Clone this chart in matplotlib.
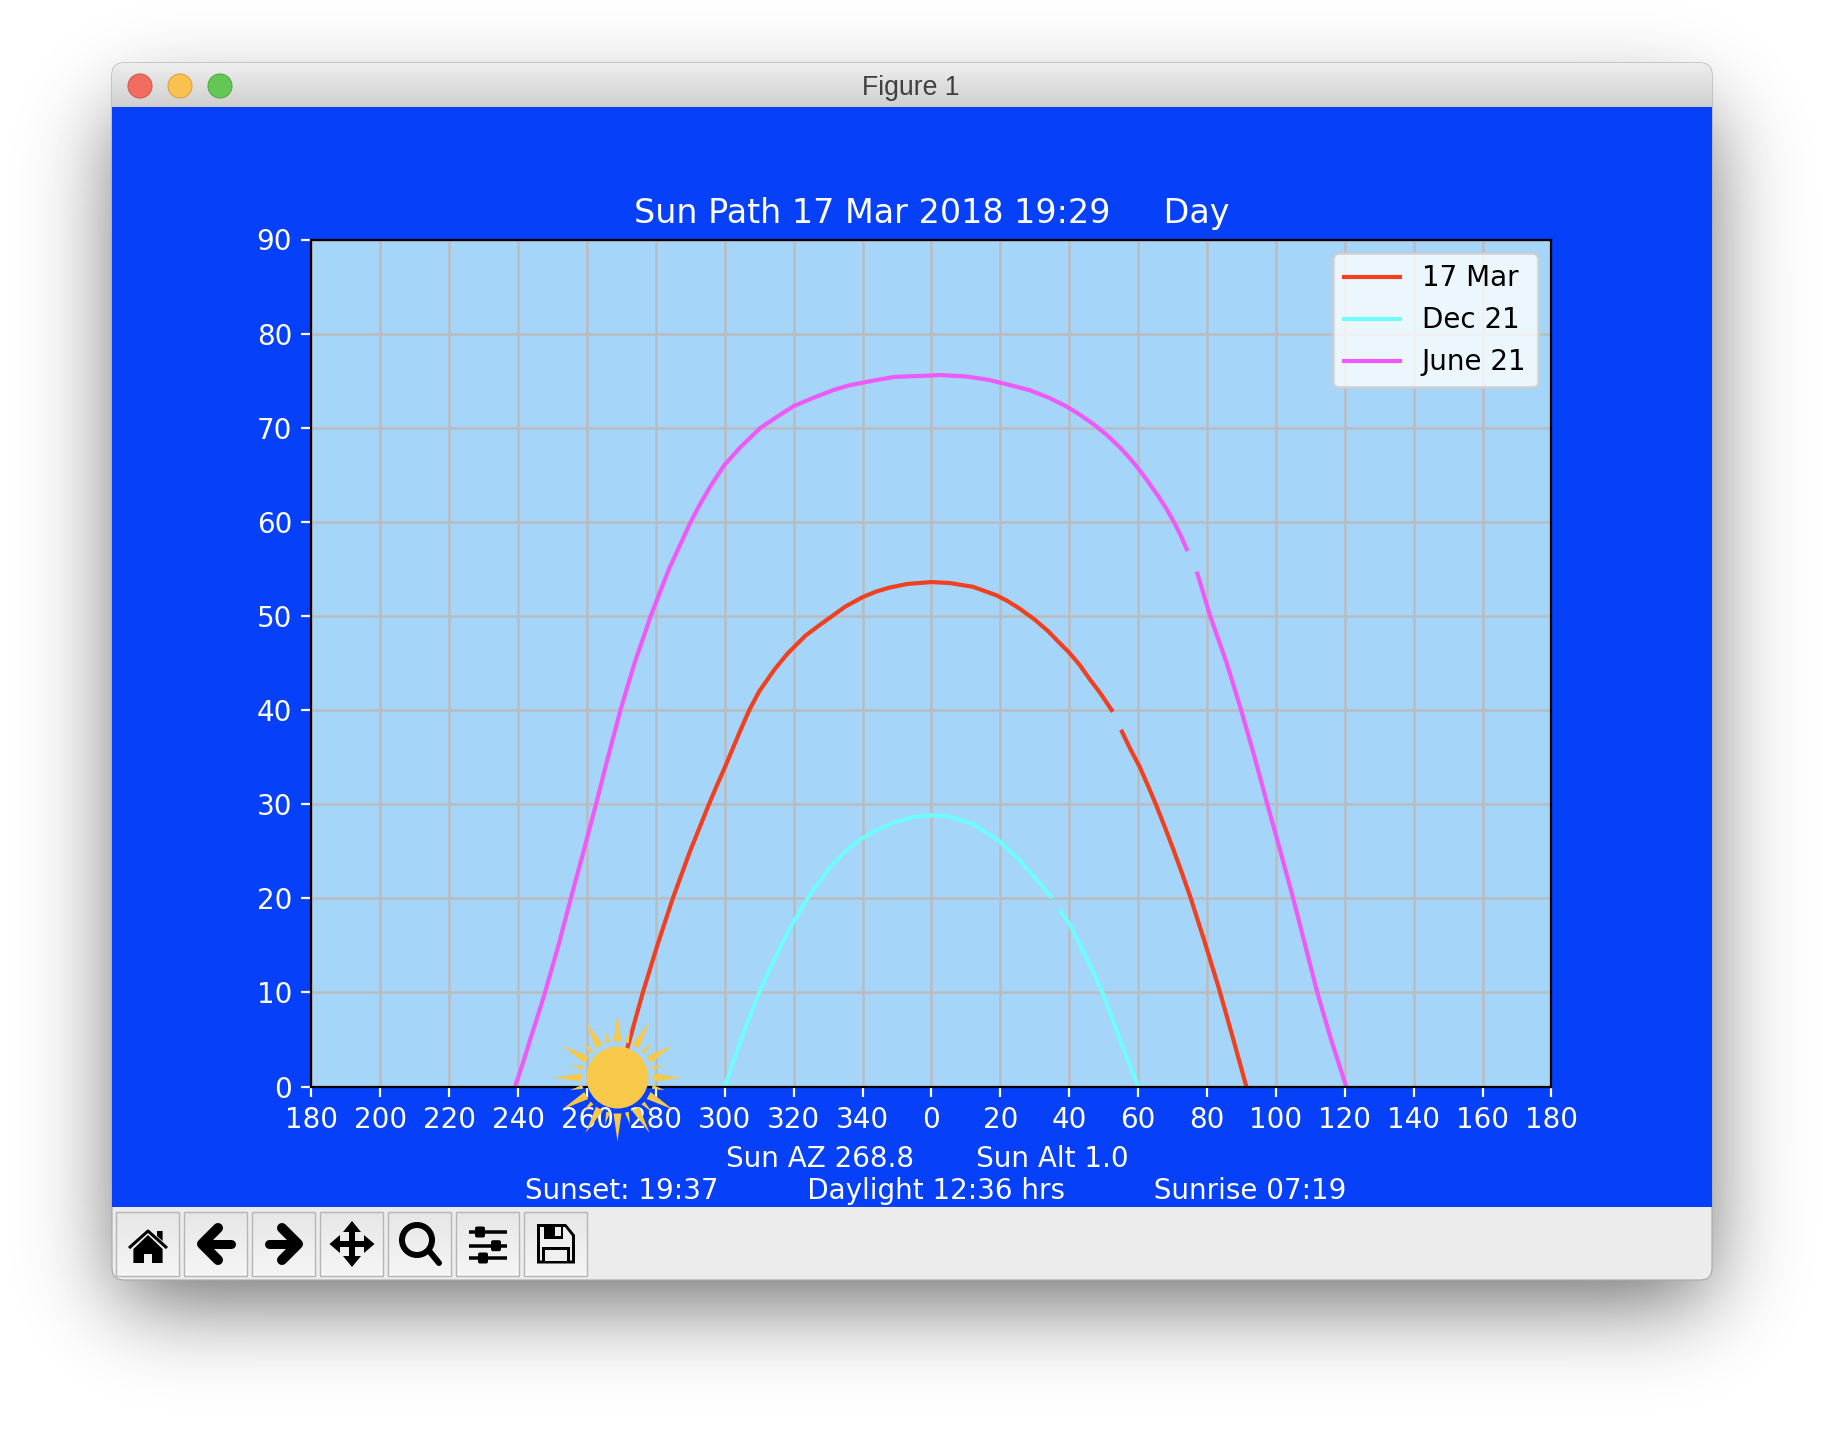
import math

import matplotlib
matplotlib.use("Agg")
import matplotlib.pyplot as plt
import numpy as np
from matplotlib.markers import MarkerStyle
from matplotlib.patches import Circle, FancyBboxPatch, Polygon, Rectangle
from matplotlib.path import Path

nan = np.nan

# sun path readings: azimuth (0 = south, negative = west side of the plot) and altitude
mar_az = [-91.4, -87.6, -83.8, -79.6, -75.1, -70.1, -64.6, -62.3, -59.9, -57.6, -55.3, -52.9, -50,
          -45.6, -41.8, -36.6, -32.6, -28.8, -25, -20, -16, -12.3, -7, 0,
          5.2, 12, 18.8, 22, 25.5, 30, 33.8, 37, 40, 43, 45.9, 49, 52.3, nan,
          55.3, 57.8, 60.4, 62.8, 65, 67.6, 70.2, 72.6, 75, 79.2, 83.3, 87.4, 91.4]
mar_alt = [0, 5, 10, 15, 20, 25, 30, 32, 34, 36, 38, 40, 42,
           44.3, 46, 47.9, 49, 50, 51, 52, 52.6, 53, 53.4, 53.6,
           53.5, 53.1, 52.2, 51.6, 50.8, 49.6, 48.4, 47.2, 46.1, 44.8, 43.3, 41.8, 40, nan,
           37.7, 35.8, 34, 32, 30.1, 27.7, 25.2, 22.8, 20.3, 15.5, 10.6, 5.3, 0]

dec_az = [-60, -55.3, -50, -46.9, -43.6, -40.8, -36, -32.1, -29.2, -25, -20.9, -15.6, -11.2, -5.4, 0,
          5, 12, 19.6, 24, 27.4, 31, 34.6, nan,
          37.5, 39.9, 42.4, 44.8, 47.2, 49.6, 52.5, 55.4, 60]
dec_alt = [0, 5, 10, 12.5, 15, 17, 20, 22, 23.4, 25, 26.2, 27.3, 28, 28.65, 28.8,
           28.7, 27.9, 26.1, 24.6, 23.3, 21.8, 20.2, nan,
           18.6, 17.4, 15.6, 13.8, 12, 10, 7.2, 4.3, 0]

jun_az = [-120.9, -118.6, -116.5, -114.3, -112.2, -108.3, -104.7, -101, -97.4, -93.9, -90.3, -86.2,
          -81.5, -76.2, -69.9, -67, -63.8, -60.2, -55.3, -49.6, -44.7, -40, -34.5, -28.5, -23.9,
          -17, -10.8, 0, 2.3, 10, 16.4, 22, 28.4, 34, 39, 43, 47.3, 51, 55, 57.7, 60.4, 63, 65.7,
          68.2, 70.5, 72.3, 74.1, nan,
          77.2, 80.9, 85.7, 89.9, 93.8, 97.5, 101.3, 105, 108.5, 112, 116, 118.2, 120.4]
jun_alt = [0, 2.5, 5, 7.5, 10, 15, 20, 25, 30, 35, 40, 45,
           50, 55, 60, 62, 64, 66, 68, 70, 71.2, 72.3, 73.15, 74, 74.5,
           75, 75.4, 75.55, 75.6, 75.45, 75.1, 74.6, 74, 73.2, 72.3, 71.4, 70.3, 69.2, 67.8, 66.7, 65.5, 64.2, 62.8,
           61.4, 59.9, 58.6, 57.1, nan,
           54.5, 50, 45, 40, 35, 30, 25, 20, 15, 10, 5, 2.5, 0]

sun_az = -91.2
sun_alt = 1.0

x_ticks = list(range(-180, 181, 20))
x_labels = ["180", "200", "220", "240", "260", "280", "300", "320", "340",
            "0", "20", "40", "60", "80", "100", "120", "140", "160", "180"]
y_ticks = list(range(0, 91, 10))

BLUE = "#0640f8"
PT = 72 / 200  # one pixel in points

fig = plt.figure(figsize=(9.12, 7.2), dpi=200, facecolor="white")

# window chrome, in pixels
bg = fig.add_axes([0, 0, 1, 1], zorder=0)
bg.set_axis_off()


def edge(v, a, b, s):
    erf = np.vectorize(math.erf)
    k = s * math.sqrt(2)
    return 0.5 * (erf((v - a) / k) - erf((v - b) / k))


xx = edge(np.arange(1824), 118, 1706, 45)
yy = edge(np.arange(1440), 110, 1300, 45)
shadow = 1 - 0.6 * np.outer(yy, xx)
bg.imshow(shadow, cmap="gray", vmin=0, vmax=1, extent=[0, 1824, 1440, 0], aspect="auto", zorder=0)

win = FancyBboxPatch((112, 63), 1600, 1217, boxstyle="round,pad=0,rounding_size=12",
                     facecolor="#ececec", edgecolor="#a8a8a8", linewidth=0.4, zorder=0.5)
bg.add_patch(win)
bar = bg.imshow(np.linspace(0.93, 0.81, 44).reshape(-1, 1), cmap="gray", vmin=0, vmax=1,
                extent=[112, 1712, 107, 63], aspect="auto", zorder=0.6)
bar.set_clip_path(win)
bg.add_patch(Rectangle((112, 107), 1600, 1100, facecolor=BLUE, edgecolor="none", zorder=0.7))
bg.set_xlim(0, 1824)
bg.set_ylim(1440, 0)

for cx, col, ec in [(140, "#f26d60", "#d9574b"), (180, "#f9c14e", "#dfa33c"), (220, "#62c755", "#50ad45")]:
    bg.add_patch(Circle((cx, 86), 12, facecolor=col, edgecolor=ec, linewidth=0.4, zorder=2))
bg.text(911, 88, "Figure 1", family="Liberation Sans", fontsize=9.6, color="#404040",
        ha="center", va="center", zorder=2)


def thick(cx, pts, w=9, cap="round"):
    bg.plot([cx + p[0] for p in pts], [1244 + p[1] for p in pts], color="black", lw=w * PT,
            solid_capstyle=cap, solid_joinstyle="round", zorder=2)


def fill(cx, pts, fc="black"):
    bg.add_patch(Polygon([(cx + p[0], 1244 + p[1]) for p in pts], closed=True, facecolor=fc,
                         edgecolor="none", zorder=2))


btn = [148 + 68 * i for i in range(7)]
for c in btn:
    bg.imshow(np.linspace(0.90, 0.96, 64).reshape(-1, 1), cmap="gray", vmin=0, vmax=1,
              extent=[c - 32, c + 31, 1276, 1212], aspect="auto", zorder=1)
    bg.add_patch(Rectangle((c - 32, 1212), 63, 64, facecolor="none", edgecolor="#b5b5b5", linewidth=0.5, zorder=1.5))
bg.set_xlim(0, 1824)
bg.set_ylim(1440, 0)

# home
c = btn[0]
fill(c, [(0, -9), (-14.6, 5), (-14.6, 19), (-4, 19), (-4, 10), (4, 10), (4, 19), (14.6, 19), (14.6, 5)])
thick(c, [(-19, 4), (0, -13), (19, 4)], 3, "butt")
fill(c, [(9, -13), (14.6, -13), (14.6, -3), (9, -8)])
# back, forward
c = btn[1]
thick(c, [(2, -16), (-14, 0), (2, 16)], 10)
thick(c, [(-10, 0), (15, 0)], 9)
c = btn[2]
thick(c, [(-2, -16), (14, 0), (-2, 16)], 10)
thick(c, [(10, 0), (-15, 0)], 9)
# move
c = btn[3]
thick(c, [(-16, 0), (16, 0)], 6, "butt")
thick(c, [(0, -16), (0, 16)], 6, "butt")
fill(c, [(0, -23), (-9, -12), (9, -12)])
fill(c, [(0, 23), (-9, 12), (9, 12)])
fill(c, [(-22.5, 0), (-12, -9), (-12, 9)])
fill(c, [(22.5, 0), (12, -9), (12, 9)])
# zoom
c = btn[4]
bg.add_patch(Circle((c - 3, 1240), 15, facecolor="none", edgecolor="black", linewidth=6 * PT, zorder=2))
thick(c, [(10, 8), (19, 19)], 6)
# sliders
c = btn[5]
for dy, dx in [(-12, -8), (1.7, 8), (14, -5)]:
    thick(c, [(-19.4, dy), (19.4, dy)], 3.5, "butt")
    bg.add_patch(FancyBboxPatch((c + dx - 5, 1244 + dy - 5.5), 10, 11, boxstyle="round,pad=0,rounding_size=2",
                                facecolor="black", edgecolor="none", zorder=2))
# save
c = btn[6]
fill(c, [(-19, -20), (10, -20), (19, -9), (19, 19.5), (-19, 19.5)])
fill(c, [(-16, -17), (-12, -17), (-12, -5), (7, -5), (7, -17), (9, -17), (16, -8), (16, 16.5), (-16, 16.5)], "#efefef")
fill(c, [(-1, -17), (5, -17), (5, -8), (-1, -8)], "#efefef")
fill(c, [(-14, 3), (14, 3), (14, 17), (-14, 17)])
fill(c, [(-11, 6), (11, 6), (11, 16.5), (-11, 16.5)], "#efefef")
bg.set_xlim(0, 1824)
bg.set_ylim(1440, 0)

# the chart itself
ax = fig.add_axes([311.5 / 1824, (1440 - 1086.5) / 1440, 1240 / 1824, 847 / 1440], zorder=1, facecolor="#a5d5f8")
ax.plot(mar_az, mar_alt, color="#f04020", linewidth=1.5, label="17 Mar")
ax.plot(dec_az, dec_alt, color="#70fbfd", linewidth=1.5, label="Dec 21")
ax.plot(jun_az, jun_alt, color="#ee5af7", linewidth=1.5, label="June 21")

ax.set_xlim(-180, 180)
ax.set_ylim(0, 90)
ax.set_xticks(x_ticks)
ax.set_xticklabels(x_labels)
ax.set_yticks(y_ticks)
ax.tick_params(colors="white")
ax.grid(True, color="#b9bcbf", linewidth=0.9)
ax.set_title("Sun Path 17 Mar 2018 19:29     Day", color="white")
ax.set_xlabel("Sun AZ 268.8       Sun Alt 1.0 \n Sunset: 19:37          Daylight 12:36 hrs          Sunrise 07:19",
              color="white")
ax.legend(loc="upper right")

# sun picture: disc plus 24 alternating rays, sizes in pixels
verts = list(Path.unit_circle().vertices * 31)
codes = list(Path.unit_circle().codes)
for i in range(24):
    a = math.radians(i * 15)
    tip, half = (64, 4) if i % 2 == 0 else (49, 2)
    ux, uy = math.cos(a), math.sin(a)
    verts += [(36 * ux - half * uy, 36 * uy + half * ux), (tip * ux, tip * uy),
              (36 * ux + half * uy, 36 * uy - half * ux), (0, 0)]
    codes += [Path.MOVETO, Path.LINETO, Path.LINETO, Path.CLOSEPOLY]
sun = MarkerStyle(Path(verts, codes))
ax.plot([sun_az], [sun_alt], marker=sun, markersize=128 * PT, color="#f8c848", markeredgewidth=0,
        clip_on=False, zorder=10, linestyle="none")

fig.savefig("out.png", dpi=200)
